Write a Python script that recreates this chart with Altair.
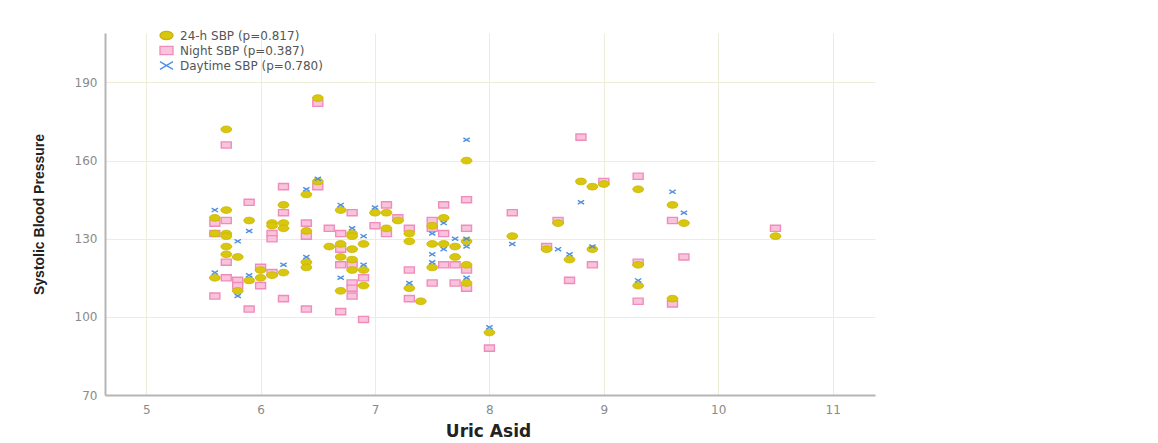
import altair as alt
import pandas as pd

names = ["24-h SBP (p=0.817)", "Night SBP (p=0.387)", "Daytime SBP (p=0.780)"]

sbp24_x = [5.6, 5.6, 5.6, 5.7, 5.7, 5.7, 5.7, 5.7, 5.7, 5.8, 5.8, 5.9, 5.9, 6.0, 6.0,
           6.1, 6.1, 6.1, 6.2, 6.2, 6.2, 6.2, 6.4, 6.4, 6.4, 6.4, 6.5, 6.5, 6.6,
           6.7, 6.7, 6.7, 6.7, 6.8, 6.8, 6.8, 6.8, 6.8, 6.9, 6.9, 6.9, 7.0, 7.1, 7.1,
           7.2, 7.3, 7.3, 7.3, 7.4, 7.5, 7.5, 7.5, 7.6, 7.6, 7.7, 7.7,
           7.8, 7.8, 7.8, 7.8, 8.0, 8.2, 8.5, 8.6, 8.7, 8.8, 8.9, 8.9, 9.0,
           9.3, 9.3, 9.3, 9.6, 9.6, 9.7, 10.5]
sbp24_y = [138, 132, 115, 172, 141, 132, 131, 127, 124, 123, 110, 137, 114, 118, 115,
           136, 135, 116, 143, 136, 134, 117, 147, 133, 121, 119, 184, 152, 127,
           141, 128, 123, 110, 132, 131, 126, 122, 118, 128, 118, 112, 140, 140, 134,
           137, 132, 129, 111, 106, 135, 128, 119, 138, 128, 127, 123,
           160, 129, 120, 113, 94, 131, 126, 136, 122, 152, 150, 126, 151,
           149, 120, 112, 143, 107, 136, 131]

night_x = [5.6, 5.6, 5.6, 5.7, 5.7, 5.7, 5.7, 5.8, 5.8, 5.9, 5.9, 6.0, 6.0,
           6.1, 6.1, 6.1, 6.2, 6.2, 6.2, 6.4, 6.4, 6.4, 6.5, 6.5, 6.6,
           6.7, 6.7, 6.7, 6.7, 6.8, 6.8, 6.8, 6.8, 6.8, 6.9, 6.9, 7.0, 7.1, 7.1,
           7.2, 7.3, 7.3, 7.3, 7.5, 7.5, 7.5, 7.6, 7.6, 7.6, 7.7, 7.7,
           7.8, 7.8, 7.8, 7.8, 8.0, 8.2, 8.5, 8.6, 8.7, 8.8, 8.9, 9.0,
           9.3, 9.3, 9.3, 9.6, 9.6, 9.7, 10.5]
night_y = [136, 132, 108, 166, 137, 121, 115, 114, 112, 144, 103, 119, 112,
           132, 130, 117, 150, 140, 107, 136, 131, 103, 182, 150, 134,
           132, 126, 120, 102, 140, 120, 113, 111, 108, 115, 99, 135, 143, 132,
           138, 134, 118, 107, 137, 134, 113, 143, 132, 120, 120, 113,
           145, 134, 118, 111, 88, 140, 127, 137, 114, 169, 120, 152,
           154, 121, 106, 137, 105, 123, 134]

day_x = [5.6, 5.6, 5.8, 5.8, 5.9, 5.9, 6.2, 6.4, 6.4, 6.5, 6.7, 6.7, 6.8, 6.9, 6.9,
         7.0, 7.3, 7.5, 7.5, 7.5, 7.6, 7.6, 7.7, 7.8, 7.8, 7.8, 7.8, 8.0, 8.2,
         8.6, 8.7, 8.8, 8.9, 9.3, 9.6, 9.7]
day_y = [141, 117, 129, 108, 133, 116, 120, 149, 123, 153, 143, 115, 134, 131, 120,
         142, 113, 132, 124, 121, 136, 126, 130, 168, 130, 127, 115, 96, 128,
         126, 124, 144, 127, 114, 148, 140]

x_ticks = [5, 6, 7, 8, 9, 10, 11]
y_ticks = [70, 100, 130, 160, 190]

df = pd.concat([
    pd.DataFrame({"uric": night_x, "sbp": night_y, "series": names[1]}),
    pd.DataFrame({"uric": sbp24_x, "sbp": sbp24_y, "series": names[0]}),
    pd.DataFrame({"uric": day_x, "sbp": day_y, "series": names[2]}),
], ignore_index=True)

ellipse = "M-1,0A1,0.62,0,1,1,1,0A1,0.62,0,1,1,-1,0Z"
rect = "M-1,-0.62L1,-0.62L1,0.62L-1,0.62Z"
xmark = "M-1,-0.6L1,0.6M-1,0.6L1,-0.6"

legend = alt.Legend(title=None, orient="none", legendX=54, legendY=-5,
                    labelFont="DejaVu Sans", labelFontSize=12, labelColor="#555555",
                    symbolSize=170, symbolStrokeWidth=1.3, labelOffset=6, rowPadding=-2,
                    padding=0)

x_enc = alt.X("uric:Q", scale=alt.Scale(domain=[4.64, 11.37], nice=False, zero=False),
              axis=alt.Axis(values=x_ticks, title="Uric Asid", titleX=383, titleY=41,
                            titleBaseline="alphabetic", titleAlign="center",
                            titleFont="DejaVu Sans", titleFontSize=17, titleFontWeight="bold",
                            titleColor="#222222", labelPadding=9))
y_enc = alt.Y("sbp:Q", scale=alt.Scale(domain=[70, 209], nice=False, zero=False),
              axis=alt.Axis(values=y_ticks, title="Systolic Blood Pressure", titleX=-66,
                            titleY=181, titleAngle=270, titleAlign="center",
                            titleBaseline="middle", titleFont="Liberation Sans",
                            titleFontSize=14, titleFontWeight="bold", titleColor="#222222",
                            labelPadding=8))

fill_enc = alt.Fill("series:N", scale=alt.Scale(domain=names, range=["#d8c70e", "#f9c3dc", "transparent"]),
                    legend=legend)
stroke_enc = alt.Stroke("series:N", scale=alt.Scale(domain=names, range=["#c9b500", "#f08cbc", "#4f8fe0"]),
                        legend=legend)
shape_enc = alt.Shape("series:N", scale=alt.Scale(domain=names, range=[ellipse, rect, xmark]),
                      legend=legend)

base = alt.Chart(df).encode(x=x_enc, y=y_enc, fill=fill_enc, stroke=stroke_enc, shape=shape_enc)

night = base.transform_filter(alt.datum.series == names[1]).mark_point(size=100, strokeWidth=1.4, opacity=1)
h24 = base.transform_filter(alt.datum.series == names[0]).mark_point(size=118, strokeWidth=0.8, opacity=1)
day = base.transform_filter(alt.datum.series == names[2]).mark_point(size=40, strokeWidth=1.4, opacity=1)

chart = alt.layer(night, h24, day).properties(
    width=770, height=362,
    autosize=alt.AutoSizeParams(type="none"),
    padding={"left": 97, "top": 25, "right": 20, "bottom": 48},
    background="white",
).configure_view(stroke=None).configure_axis(
    grid=True, gridColor="#eeedda", gridWidth=1, ticks=False,
    domainColor="#b5b5b5", domainWidth=2,
    labelFont="DejaVu Sans", labelFontSize=12, labelColor="#8a8a8a",
)

chart.save("out.html", embed_options={"renderer": "svg", "actions": False})
